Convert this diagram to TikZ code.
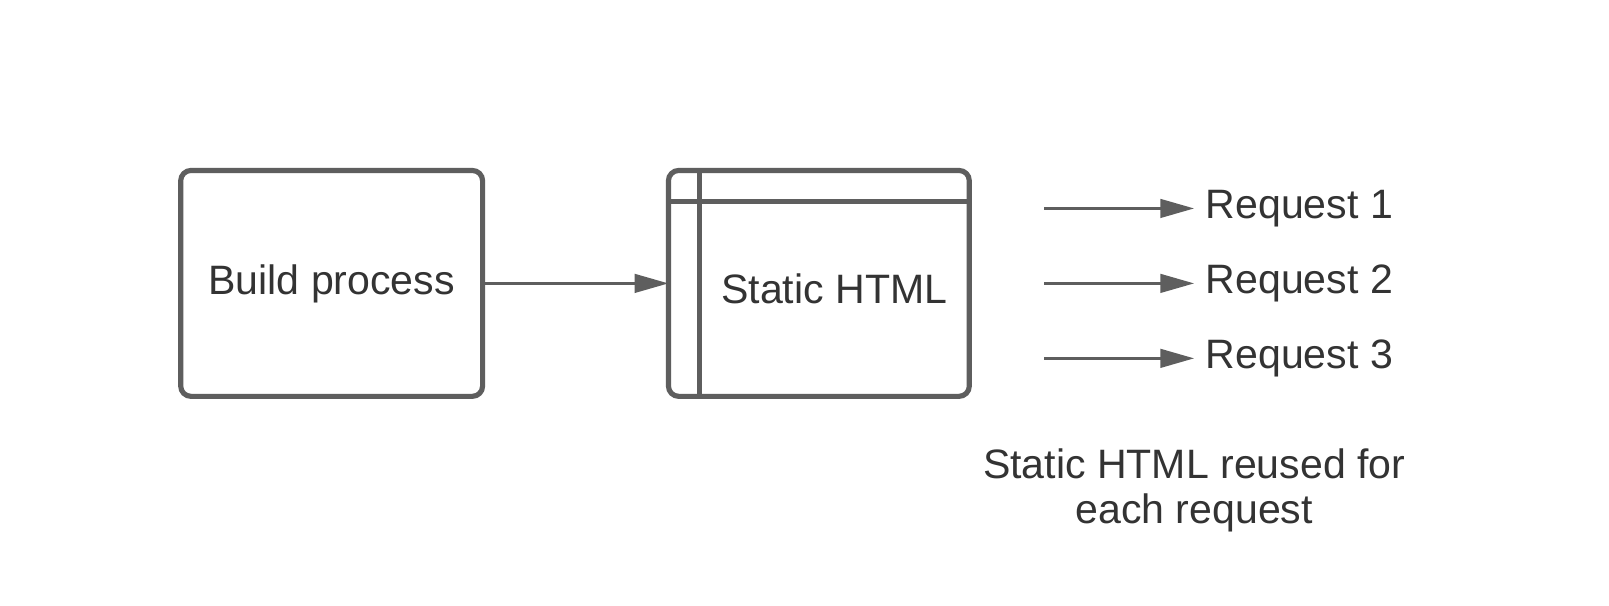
\documentclass[tikz,border=0pt]{standalone}
\usepackage{fontspec}
\setmainfont{Liberation Sans}
\usetikzlibrary{arrows.meta,calc}
\definecolor{linegray}{HTML}{5E5E5E}
\definecolor{textgray}{HTML}{333333}
\begin{document}
\begin{tikzpicture}[x=1pt,y=-1pt,
  boxstyle/.style={draw=linegray, line width=5pt, rounded corners=10pt, minimum width=294pt, minimum height=220pt, outer sep=0pt, inner sep=0pt},
  txt/.style={text=textgray, font=\fontsize{40}{44}\selectfont, inner sep=0pt},
  arr/.style={draw=linegray, line width=3pt, -{Triangle[length=33pt,width=18pt]}}]
\useasboundingbox[fill=white] (0,0) rectangle (1567,590);
% boxes
\node[boxstyle] (build) at (323,276) {};
\node[txt, anchor=base] (buildlabel) at (323,287) {Build process};
\node[boxstyle, minimum width=293pt] (html) at (797.5,276) {};
\draw[linegray, line width=5pt] ($(html.north west)+(0,30)$) -- ($(html.north east)+(0,30)$);
\draw[linegray, line width=5pt] ($(html.north west)+(30,0)$) -- ($(html.south west)+(30,0)$);
\node[txt, anchor=base] (htmllabel) at (812.5,296) {Static HTML};
% main arrow
\draw[arr] (build.east) -- (html.west);
% requests
\coordinate (s1) at (1017,203);
\coordinate (s2) at (1017,276);
\coordinate (s3) at (1017,349);
\node[txt, anchor=west, inner xsep=11pt] (r1) at (1163,203) {Request 1};
\node[txt, anchor=west, inner xsep=11pt] (r2) at (1163,276) {Request 2};
\node[txt, anchor=west, inner xsep=11pt] (r3) at (1163,349) {Request 3};
\draw[arr] (s1) -- (r1.west);
\draw[arr] (s2) -- (r2.west);
\draw[arr] (s3) -- (r3.west);
% caption
\node[txt, align=center, anchor=base] (caption) at (1163,510) {Static HTML reused for\\each request};
\end{tikzpicture}
\end{document}
